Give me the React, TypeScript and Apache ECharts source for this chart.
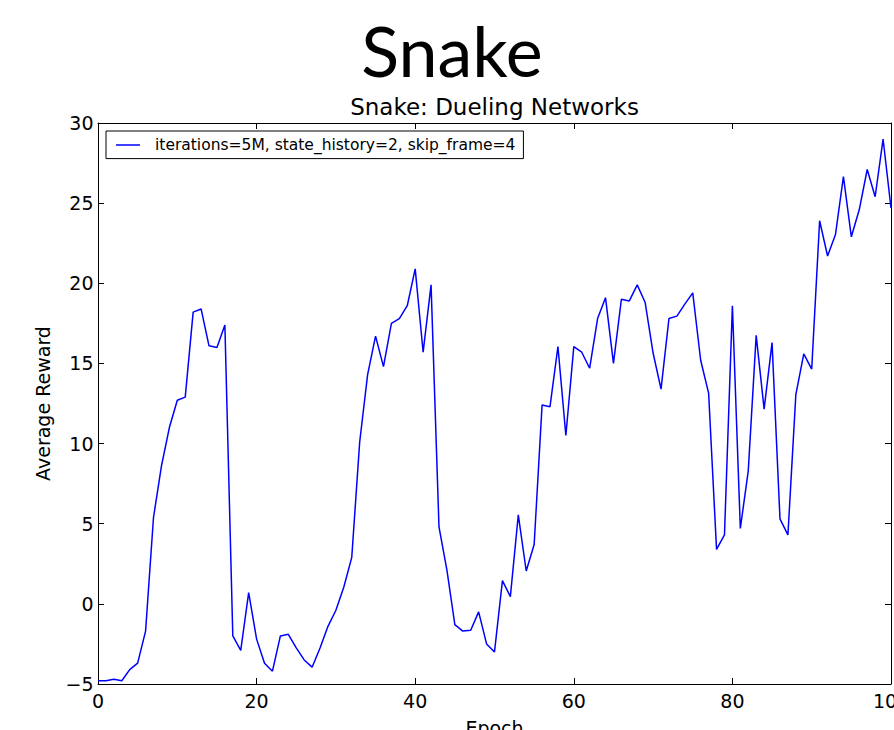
import React, { useEffect, useRef } from "react";
import * as echarts from "echarts";

const mainTitle = "Snake";
const plotTitle = "Snake: Dueling Networks";
const seriesName = "iterations=5M, state_history=2, skip_frame=4";
const xAxisName = "Epoch";
const yAxisName = "Average Reward";

// Average reward per epoch (epoch = index, 0..100)
const rewards = [
  -4.8, -4.8, -4.7, -4.8, -4.1, -3.7, -1.7, 5.4, 8.6, 11.0,
  12.7, 12.9, 18.2, 18.4, 16.1, 16.0, 17.4, -2.0, -2.9, 0.7,
  -2.2, -3.7, -4.2, -2.0, -1.9, -2.75, -3.5, -3.95, -2.75, -1.4,
  -0.4, 1.05, 2.9, 10.1, 14.3, 16.7, 14.8, 17.5, 17.8, 18.6,
  20.9, 15.7, 19.9, 4.8, 2.1, -1.3, -1.7, -1.65, -0.5, -2.5,
  -3.0, 1.45, 0.45, 5.55, 2.05, 3.7, 12.4, 12.3, 16.05, 10.5,
  16.05, 15.7, 14.7, 17.8, 19.1, 15.0, 19.0, 18.9, 19.9, 18.8,
  15.65, 13.4, 17.8, 17.95, 18.7, 19.4, 15.2, 13.15, 3.4, 4.3,
  18.6, 4.7, 8.3, 16.75, 12.15, 16.3, 5.3, 4.3, 13.05, 15.6,
  14.65, 23.9, 21.7, 23.05, 26.65, 22.9, 24.6, 27.1, 25.4, 29.0,
  24.7,
];

const xMin = 0;
const xMax = 100;
const xStep = 20;
const yMin = -5;
const yMax = 30;
const yStep = 5;

export default function App() {
  const ref = useRef<HTMLDivElement>(null);

  useEffect(() => {
    if (!ref.current) return;
    const chart = echarts.init(ref.current, null, { renderer: "svg" });
    const FONT = "DejaVu Sans";
    const lineStyle = { color: "#000", width: 1 };
    const tick = { show: true, inside: true, length: 6, lineStyle };
    const baseX = {
      type: "value",
      gridIndex: 0,
      min: xMin,
      max: xMax,
      interval: xStep,
      axisLine: { show: true, onZero: false, lineStyle },
      axisTick: tick,
      splitLine: { show: false },
    };
    const baseY = {
      type: "value",
      gridIndex: 0,
      min: yMin,
      max: yMax,
      interval: yStep,
      axisLine: { show: true, onZero: false, lineStyle },
      axisTick: tick,
      splitLine: { show: false },
    };

    chart.setOption({
      animation: false,
      backgroundColor: "#fff",
      grid: {
        left: 98,
        right: 3,
        top: 123,
        bottom: 46,
        containLabel: false,
        outerBoundsMode: "none",
      },
      graphic: [
        {
          type: "text",
          x: 452,
          y: 50,
          style: {
            text: mainTitle,
            fontFamily: "Lato",
            fontSize: 70,
            fill: "#000",
            align: "center",
            verticalAlign: "middle",
            textAlign: "center",
            textVerticalAlign: "middle",
          },
        },
        {
          type: "text",
          x: 494.5,
          y: 106.5,
          style: {
            text: plotTitle,
            fontFamily: FONT,
            fontSize: 23,
            fill: "#000",
            align: "center",
            verticalAlign: "middle",
            textAlign: "center",
            textVerticalAlign: "middle",
          },
        },
      ],
      legend: {
        show: true,
        left: 106,
        top: 131,
        orient: "horizontal",
        padding: [5, 8, 4.6, 10],
        borderColor: "#000",
        borderWidth: 1,
        borderRadius: 0,
        backgroundColor: "#fff",
        itemWidth: 24,
        itemHeight: 1.5,
        icon: "rect",
        selectedMode: false,
        itemStyle: { color: "#0000ff", borderWidth: 0 },
        textStyle: {
          fontFamily: FONT,
          fontSize: 15.5,
          color: "#000",
          lineHeight: 18,
          padding: [0, 0, 0, 10],
        },
        data: [seriesName],
      },
      xAxis: [
        {
          ...baseX,
          position: "bottom",
          name: xAxisName,
          nameLocation: "middle",
          nameGap: 34,
          nameTextStyle: { fontFamily: FONT, fontSize: 19, color: "#000" },
          axisLabel: { show: true, color: "#000", fontFamily: FONT, fontSize: 19, margin: 7 },
        },
        {
          ...baseX,
          position: "top",
          axisLabel: { show: false },
        },
      ],
      yAxis: [
        {
          ...baseY,
          position: "left",
          name: yAxisName,
          nameLocation: "middle",
          nameGap: 46,
          nameTextStyle: { fontFamily: FONT, fontSize: 19, color: "#000" },
          axisLabel: {
            show: true,
            color: "#000",
            fontFamily: FONT,
            fontSize: 19,
            margin: 4.5,
            formatter: (v: number) => String(v).replace("-", "\u2212"),
          },
        },
        {
          ...baseY,
          position: "right",
          axisLabel: { show: false },
        },
      ],
      series: [
        {
          name: seriesName,
          type: "line",
          xAxisIndex: 0,
          yAxisIndex: 0,
          data: rewards.map((v, i) => [i, v]),
          showSymbol: false,
          symbol: "none",
          lineStyle: { color: "#0000ff", width: 1.5 },
          itemStyle: { color: "#0000ff" },
          clip: true,
        },
      ],
    });

    return () => chart.dispose();
  }, []);

  return (
    <div
      ref={ref}
      style={{ position: "fixed", left: 0, top: 0, width: 894, height: 730 }}
    />
  );
}
